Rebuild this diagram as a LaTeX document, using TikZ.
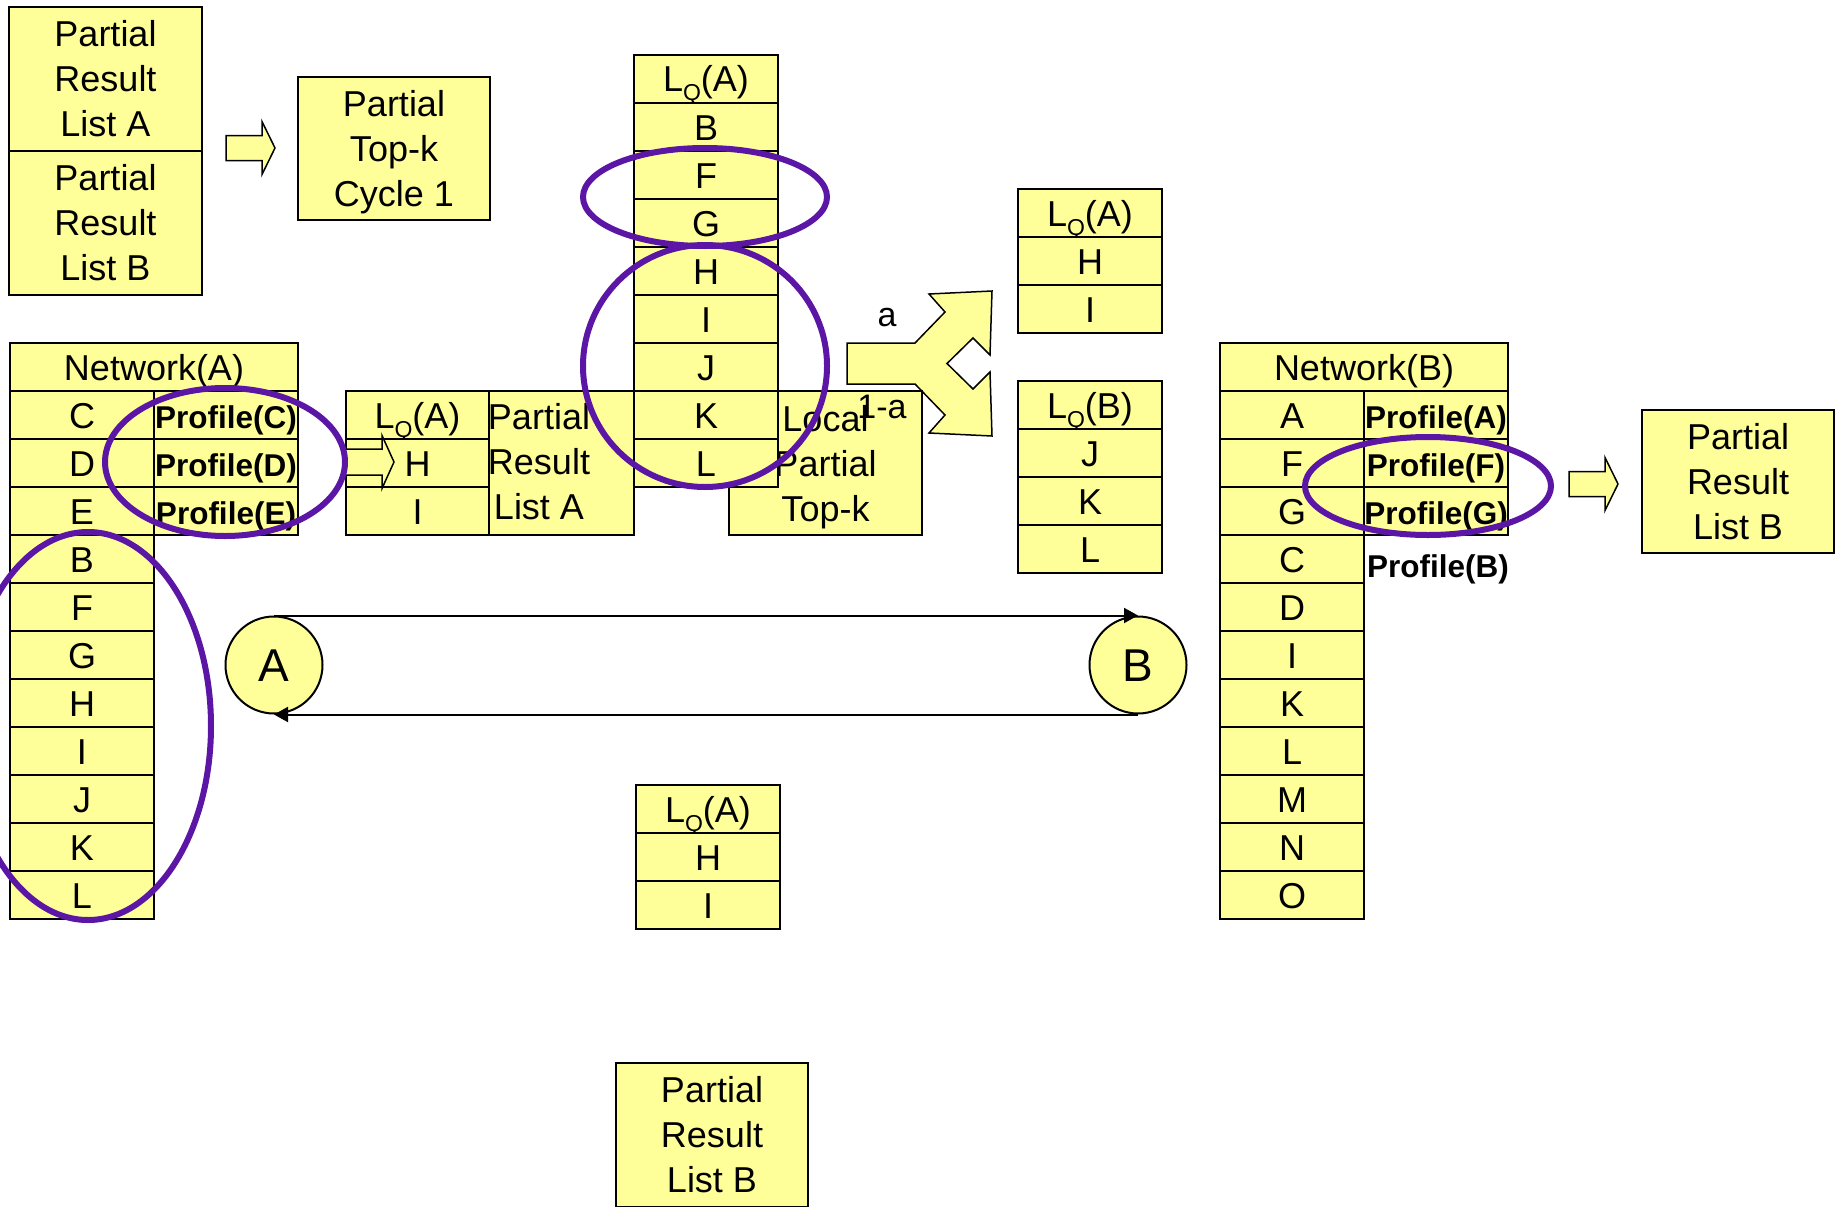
\documentclass[tikz,border=0pt]{standalone}
\usepackage{fontspec}
\setmainfont{Liberation Sans}
\usetikzlibrary{shapes.geometric,arrows.meta}
\definecolor{boxyellow}{RGB}{255,255,153}
\definecolor{ringpurple}{RGB}{92,22,166}
\newcommand\LQ[1]{L\raisebox{-9pt}{\fontsize{23}{23}\selectfont Q}(#1)}
\newcommand\nodp[1]{\raisebox{0pt}[\height][0pt]{#1}}
\begin{document}
\begin{tikzpicture}[x=1pt,y=-1pt,
  box/.style={draw, line width=2pt, fill=boxyellow, inner sep=0pt, anchor=north west},
  cell/.style={box, minimum width=144pt, minimum height=48pt, font=\fontsize{36}{43}\selectfont, text height=26pt, text depth=0pt},
  pcell/.style={cell, font=\fontsize{31.5}{38}\selectfont\bfseries},
  hdr/.style={cell, minimum width=288pt},
  txtbox/.style={box, align=center, font=\fontsize{36}{45}\selectfont},
  ring/.style={ellipse, draw=ringpurple, line width=6pt, inner sep=0pt},
  blockar/.style={draw, line width=1.5pt, fill=boxyellow, line join=miter},
  conn/.style={line width=2pt, -{Triangle[length=14pt,width=15pt]}},
  token/.style={circle, draw, line width=2pt, fill=boxyellow, minimum size=97pt, inner sep=0pt, font=\fontsize{46}{46}\selectfont, text height=33pt, text depth=0pt},
  lbl/.style={inner sep=0pt, font=\fontsize{34}{34}\selectfont}
]
\useasboundingbox (0,0) rectangle (1839,1207);

% top-left stacked box, arrow, cycle box
\node[txtbox, minimum width=193pt, minimum height=144pt] (prlA) at (8,6) {Partial\\Result\\List A};
\node[txtbox, minimum width=193pt, minimum height=144pt] (prlB) at (8,150) {Partial\\Result\\List B};
\coordinate (ar1) at (226,148);
\draw[blockar] (ar1) ++(0,-12.5) -- ++(36,0) -- ++(0,-14) -- ++(13,26.5) -- ++(-13,26.5) -- ++(0,-14) -- ++(-36,0) -- cycle;
\node[txtbox, minimum width=192pt, minimum height=143pt] (ptk) at (297,76) {Partial\\Top-k\\\nodp{Cycle 1}};

% Network(A)
\node[hdr] (naH) at (9,342) {Network(A)};
\foreach \t [count=\i] in {C,D,E,B,F,G,H,I,J,K,L}
  \node[cell] (na\i) at (9,{390+48*(\i-1)}) {\t};
\node[pcell] (pa1) at (153,390) {Profile(C)};
\node[pcell] (pa2) at (153,438) {Profile(D)};
\node[pcell] (pa3) at (153,486) {Profile(E)};

% small box with partial result list A
\node[box, minimum width=288pt, minimum height=144pt] (slA) at (345,390) {};
\node[cell, minimum width=143pt] (slA0) at (345,390) {\LQ{A}};
\node[cell, minimum width=143pt] (slA1) at (345,438) {H};
\node[cell, minimum width=143pt] (slA2) at (345,486) {I};
\node[align=center, inner sep=0pt, font=\fontsize{36}{45}\selectfont] (slAt) at (539,462) {Partial\\Result\\List A};
\coordinate (ar2) at (345,462);
\draw[blockar] (ar2) ++(0,-13) -- ++(37,0) -- ++(0,-13.5) -- ++(12,26.5) -- ++(-12,26.5) -- ++(0,-13.5) -- ++(-37,0) -- cycle;

% forked arrow
\draw[blockar] (847,343) -- (915,343) -- (945,312) -- (929,294) -- (992,291) -- (990,355) -- (973,338)
  -- (947,363.5) -- (973,389) -- (990,372) -- (992,436) -- (929,433) -- (945,415) -- (915,384) -- (847,384) -- cycle;

% local partial top-k
\node[txtbox, minimum width=193pt, minimum height=144pt] (lpt) at (728,390) {Local\\Partial\\\nodp{Top-k}};

% tall list
\node[cell] (tl0) at (633,54) {\LQ{A}};
\foreach \t [count=\i] in {B,F,G,H,I,J,K,L}
  \node[cell] (tl\i) at (633,{54+48*\i}) {\t};

\node[lbl] (la) at (887,318) {a};
\node[lbl, text height=24pt, text depth=0pt] (l1a) at (882,406) {1-a};

% right small lists
\node[cell] (ra0) at (1017,188) {\LQ{A}};
\node[cell] (ra1) at (1017,236) {H};
\node[cell] (ra2) at (1017,284) {I};
\node[cell] (rb0) at (1017,380) {\LQ{B}};
\node[cell] (rb1) at (1017,428) {J};
\node[cell] (rb2) at (1017,476) {K};
\node[cell] (rb3) at (1017,524) {L};

% Network(B)
\node[hdr] (nbH) at (1219,342) {Network(B)};
\foreach \t [count=\i] in {A,F,G,C,D,I,K,L,M,N,O}
  \node[cell] (nb\i) at (1219,{390+48*(\i-1)}) {\t};
\node[pcell] (pb1) at (1363,390) {Profile(A)};
\node[pcell] (pb2) at (1363,438) {Profile(F)};
\node[pcell] (pb3) at (1363,486) {Profile(G)};
\node[inner sep=0pt, font=\fontsize{31.5}{38}\selectfont\bfseries, text height=23pt, text depth=0pt] (pbB) at (1438,566) {Profile(B)};
\coordinate (ar3) at (1569,484);
\draw[blockar] (ar3) ++(0,-12.5) -- ++(36,0) -- ++(0,-14) -- ++(13,26.5) -- ++(-13,26.5) -- ++(0,-14) -- ++(-36,0) -- cycle;
\node[txtbox, minimum width=192pt, minimum height=143pt] (prlB2) at (1641,409) {Partial\\Result\\List B};

% peers
\node[token] (cA) at (274,665) {A};
\node[token] (cB) at (1138,665) {B};
\draw[conn] (cA.north) -- (cB.north);
\draw[conn] (cB.south) -- (cA.south);

% bottom list and box
\node[cell] (bl0) at (635,784) {\LQ{A}};
\node[cell] (bl1) at (635,832) {H};
\node[cell] (bl2) at (635,880) {I};
\node[txtbox, minimum width=192pt, minimum height=144pt] (prlB3) at (615,1062) {Partial\\Result\\List B};

% rings
\node[ring, minimum width=240pt, minimum height=148pt] (e1) at (225,462) {};
\node[ring, minimum width=246pt, minimum height=388pt] (e2) at (88,726) {};
\node[ring, minimum width=244pt, minimum height=98pt] (e3) at (705,197) {};
\node[ring, minimum width=244pt, minimum height=242pt] (e4) at (705,366) {};
\node[ring, minimum width=246pt, minimum height=98pt] (e5) at (1428,486) {};
\end{tikzpicture}
\end{document}
